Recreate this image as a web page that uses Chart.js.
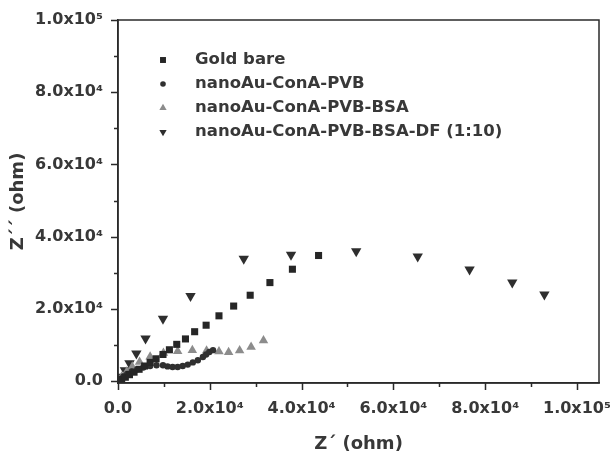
<!DOCTYPE html>
<html>
<head>
<meta charset="utf-8">
<script src="https://cdn.jsdelivr.net/npm/chart.js@4"></script>
<style>
  html, body { margin: 0; padding: 0; background: #fff; }
  #wrap { width: 610px; height: 455px; }
</style>
</head>
<body>
<div id="wrap"><canvas id="myChart" width="610" height="455"></canvas></div>
<script>
// values in ohm
const seriesNames = ['Gold bare', 'nanoAu-ConA-PVB', 'nanoAu-ConA-PVB-BSA', 'nanoAu-ConA-PVB-BSA-DF (1:10)'];

const goldX = [300, 800, 1600, 2500, 3500, 4600, 5800, 7000, 8300, 9800, 11200, 12800, 14700, 16700, 19200, 22000, 25200, 28800, 33100, 38000, 43700];
const goldY = [100, 500, 1100, 1800, 2500, 3300, 4200, 5200, 6200, 7400, 8700, 10200, 11700, 13700, 15500, 18100, 20800, 23800, 27300, 31000, 34800];

const pvbX = [200, 600, 1200, 2000, 3000, 4200, 5500, 7000, 8400, 9800, 10800, 11900, 13000, 14100, 15200, 16300, 17400, 18500, 19200, 19900, 20700];
const pvbY = [100, 600, 1300, 2000, 2700, 3300, 3800, 4200, 4400, 4400, 4100, 3950, 3950, 4200, 4600, 5200, 5800, 6700, 7400, 8100, 8600];

const bsaX = [300, 800, 1900, 3100, 4700, 7000, 9900, 13000, 16200, 19300, 22000, 24100, 26500, 29000, 31700];
const bsaY = [300, 1200, 2600, 4000, 5300, 6800, 7800, 8300, 8600, 8400, 8200, 8000, 8500, 9500, 11300];

const dfX = [400, 800, 1500, 2500, 4000, 6000, 9800, 15800, 27400, 37700, 51900, 65300, 76600, 85900, 92900];
const dfY = [300, 1200, 3000, 5000, 7700, 11800, 17300, 23600, 33900, 35000, 36000, 34500, 30900, 27300, 24000];

const xTicks = [0, 20000, 40000, 60000, 80000, 100000];
const yTicks = [0, 20000, 40000, 60000, 80000, 100000];
const tickText = ['0.0', '2.0x10⁴', '4.0x10⁴', '6.0x10⁴', '8.0x10⁴', '1.0x10⁵'];

function pts(xs, ys) {
  return xs.map((x, i) => ({ x: x, y: ys[i] }));
}

const markers = [
  { style: 'rect', rot: 0, r: 5, color: '#262626', lr: 4.2 },
  { style: 'circle', rot: 0, r: 3.2, color: '#303030', lr: 2.8 },
  { style: 'triangle', rot: 0, r: 5.5, color: '#8c8c8c', lr: 4.2 },
  { style: 'triangle', rot: 180, r: 6, color: '#2e2e2e', lr: 4.2 }
];

const allX = [goldX, pvbX, bsaX, dfX];
const allY = [goldY, pvbY, bsaY, dfY];

const datasets = seriesNames.map((name, i) => ({
  label: name,
  data: pts(allX[i], allY[i]),
  pointStyle: markers[i].style,
  rotation: markers[i].rot,
  pointRadius: markers[i].r,
  pointHoverRadius: markers[i].r,
  backgroundColor: markers[i].color,
  borderColor: markers[i].color,
  borderWidth: 0,
  showLine: false
}));

const fontFam = '"DejaVu Sans", Verdana, sans-serif';
const textColor = '#383838';
const lineColor = '#2a2a2a';

// frame, major/minor ticks and legend inside the plot
const framePlugin = {
  id: 'frame',
  afterDraw(chart) {
    const c = chart.ctx, a = chart.chartArea;
    const xs = chart.scales.x, ys = chart.scales.y;
    c.save();
    c.strokeStyle = lineColor;
    c.lineWidth = 1.5;
    c.strokeRect(a.left, a.top, a.right - a.left, a.bottom - a.top);
    c.beginPath();
    for (let v = 0; v <= 100000; v += 10000) {
      const len = (v % 20000 === 0) ? 7 : 4;
      const px = Math.round(xs.getPixelForValue(v)) + 0.5;
      c.moveTo(px, a.bottom);
      c.lineTo(px, a.bottom + len);
      const py = Math.round(ys.getPixelForValue(v)) + 0.5;
      c.moveTo(a.left, py);
      c.lineTo(a.left - len, py);
    }
    c.stroke();

    c.font = 'bold 16.5px ' + fontFam;
    c.textBaseline = 'middle';
    const rows = [60, 84, 108, 132];
    seriesNames.forEach((name, i) => {
      const m = markers[i];
      c.fillStyle = m.color;
      c.strokeStyle = m.color;
      Chart.helpers.drawPoint(c, { pointStyle: m.style, rotation: m.rot, radius: m.lr, borderWidth: 0 }, 163, rows[i]);
      c.fillStyle = textColor;
      c.fillText(name, 195, rows[i]);
    });
    c.restore();
  }
};

const tickFont = { family: fontFam, size: 16, weight: 'bold' };
const titleFont = { family: fontFam, size: 18, weight: 'bold' };

const ctx = document.getElementById('myChart').getContext('2d');

const chart = new Chart(ctx, {
  type: 'scatter',
  data: { datasets: datasets },
  options: {
    responsive: false,
    animation: false,
    layout: { padding: { top: 20, right: 11, left: 0, bottom: 0 } },
    plugins: {
      legend: { display: false },
      tooltip: { enabled: false }
    },
    scales: {
      x: {
        type: 'linear',
        min: 0,
        max: 104800,
        afterBuildTicks: (s) => { s.ticks = xTicks.map(v => ({ value: v })); },
        afterFit: (s) => { s.height = 72; s.paddingLeft = 0; s.paddingRight = 0; },
        ticks: {
          autoSkip: false,
          maxRotation: 0,
          color: textColor,
          font: tickFont,
          padding: 16,
          callback: (v) => tickText[xTicks.indexOf(v)]
        },
        grid: { display: true, drawOnChartArea: false, drawTicks: false, color: lineColor },
        border: { color: lineColor, width: 1.5 },
        title: { display: true, text: 'Z´ (ohm)', color: textColor, font: titleFont, padding: { top: 0, bottom: 0 } }
      },
      y: {
        type: 'linear',
        min: -500,
        max: 100000,
        afterBuildTicks: (s) => { s.ticks = yTicks.map(v => ({ value: v })); },
        afterFit: (s) => { s.width = 118; s.paddingTop = 0; s.paddingBottom = 0; },
        ticks: {
          autoSkip: false,
          color: textColor,
          font: tickFont,
          padding: 15,
          callback: (v) => tickText[yTicks.indexOf(v)]
        },
        grid: { display: true, drawOnChartArea: false, drawTicks: false, color: lineColor },
        border: { color: lineColor, width: 1.5 },
        title: { display: true, text: 'Z´´ (ohm)', color: textColor, font: titleFont, padding: { top: 8, bottom: 0 } }
      }
    }
  },
  plugins: [framePlugin]
});
</script>
</body>
</html>
